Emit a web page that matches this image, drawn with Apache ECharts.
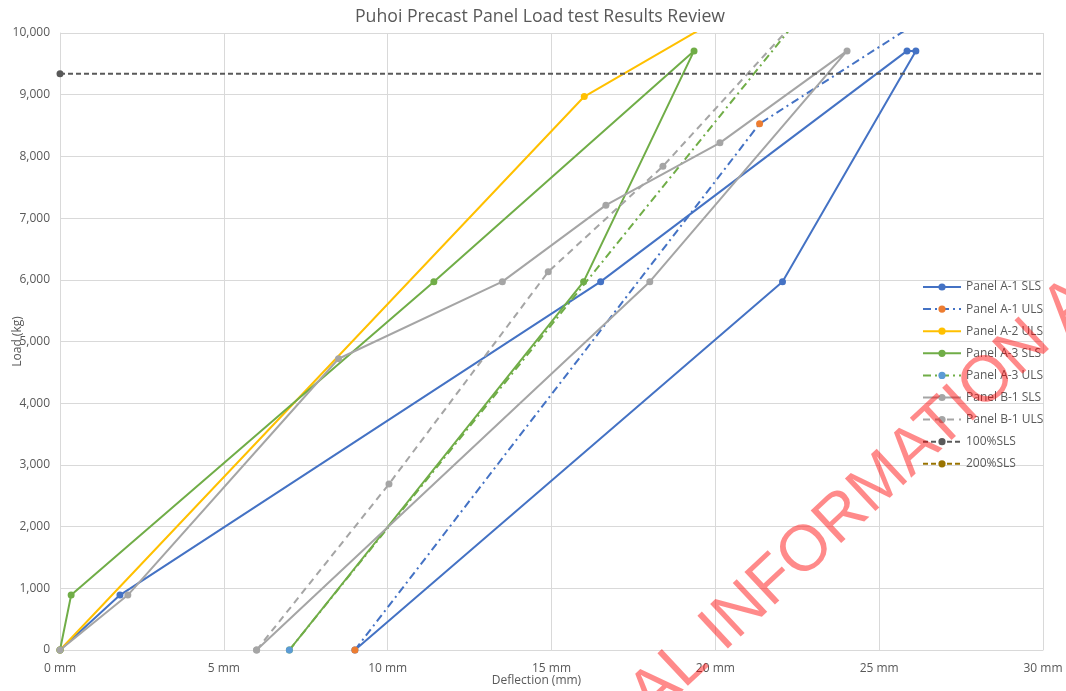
<!DOCTYPE html>
<html>
<head>
<meta charset="utf-8">
<title>Puhoi Precast Panel Load test Results Review</title>
<script src="https://cdn.jsdelivr.net/npm/echarts@6/dist/echarts.min.js"></script>
<style>
  html, body { margin: 0; padding: 0; background: #ffffff; }
  #chart { width: 1066px; height: 691px; }
</style>
</head>
<body>
<div id="chart"></div>
<script>
// Deflection (mm) and load (kg) readings for each panel test
const a1SlsX = [0, 1.83, 16.5, 25.85, 26.12, 22.05, 9.0];
const a1SlsY = [0, 890, 5970, 9710, 9710, 5970, 0];

const a1UlsX = [9.0, 21.35, 28.6];
const a1UlsY = [0, 8530, 11000];

const a2UlsX = [0, 16.0, 22.6];
const a2UlsY = [0, 8970, 11000];

const a3SlsX = [0, 0.34, 11.41, 19.35, 15.98, 7.0];
const a3SlsY = [0, 890, 5970, 9710, 5970, 0];

const a3UlsX = [7.0, 23.7];
const a3UlsY = [0, 11000];

const b1SlsX = [0, 2.07, 8.5, 13.5, 16.66, 20.14, 24.02, 18.0, 6.0];
const b1SlsY = [0, 890, 4720, 5970, 7210, 8220, 9710, 5970, 0];

const b1UlsX = [6.0, 10.04, 14.9, 18.4, 23.84];
const b1UlsY = [0, 2690, 6130, 7840, 11000];

// Reference load levels
const slsLevelX = [0, 32];
const sls100Y = [9340, 9340];
const sls200Y = [18680, 18680];

const xTicks = [0, 5, 10, 15, 20, 25, 30];

const FONT = '"Open Sans", "Noto Sans", sans-serif';
const TEXT = '#595959';

function pairs(xs, ys) {
  return xs.map((x, i) => [x, ys[i]]);
}

function lineSeries(name, xs, ys, lineColor, markerColor, dash) {
  return {
    name: name,
    type: 'line',
    data: pairs(xs, ys),
    symbol: 'circle',
    symbolSize: 7,
    showAllSymbol: true,
    clip: true,
    lineStyle: { color: lineColor, width: 2, type: dash || 'solid' },
    itemStyle: { color: markerColor, borderWidth: 0 },
    emphasis: { disabled: true },
    animation: false
  };
}

const dashDot = [8, 4, 2, 4];
const dashed = [7, 5];
const shortDash = [5, 3];

const series = [
  lineSeries('Panel A-1 SLS', a1SlsX, a1SlsY, '#4472C4', '#4472C4'),
  lineSeries('Panel A-1 ULS', a1UlsX, a1UlsY, '#4472C4', '#ED7D31', dashDot),
  lineSeries('Panel A-2 ULS', a2UlsX, a2UlsY, '#FFC000', '#FFC000'),
  lineSeries('Panel A-3 SLS', a3SlsX, a3SlsY, '#70AD47', '#70AD47'),
  lineSeries('Panel A-3 ULS', a3UlsX, a3UlsY, '#70AD47', '#5B9BD5', dashDot),
  lineSeries('Panel B-1 SLS', b1SlsX, b1SlsY, '#A5A5A5', '#A5A5A5'),
  lineSeries('Panel B-1 ULS', b1UlsX, b1UlsY, '#A5A5A5', '#A5A5A5', dashed),
  lineSeries('100%SLS', slsLevelX, sls100Y, '#595959', '#595959', shortDash),
  lineSeries('200%SLS', slsLevelX, sls200Y, '#997300', '#997300', shortDash)
];

const chart = echarts.init(document.getElementById('chart'), null, { renderer: 'canvas' });

chart.setOption({
  backgroundColor: '#ffffff',
  animation: false,
  textStyle: { fontFamily: FONT },
  title: {
    text: 'Puhoi Precast Panel Load test Results Review',
    left: 535,
    textAlign: 'center',
    top: 3,
    textStyle: { fontFamily: FONT, fontSize: 17.7, fontWeight: 'normal', color: TEXT }
  },
  grid: { left: 60, right: 23, top: 33, bottom: 41, containLabel: false, outerBoundsMode: 'none' },
  legend: {
    orient: 'vertical',
    left: 917,
    top: 276,
    itemWidth: 38,
    itemHeight: 9,
    itemGap: 10.1,
    textStyle: { fontFamily: FONT, fontSize: 12, color: TEXT, lineHeight: 12 },
    selectedMode: false,
    data: series.map(s => s.name)
  },
  xAxis: {
    type: 'value',
    min: xTicks[0],
    max: xTicks[xTicks.length - 1],
    interval: 5,
    name: 'Deflection (mm)',
    nameLocation: 'middle',
    nameGap: 25,
    nameMoveOverlap: false,
    nameTextStyle: { fontFamily: FONT, fontSize: 12, color: TEXT, padding: [0, 30, 0, 0] },
    axisLine: { show: true, lineStyle: { color: '#d9d9d9', width: 1 } },
    axisTick: { show: false },
    axisLabel: { formatter: '{value} mm', fontFamily: FONT, fontSize: 12, color: TEXT, margin: 13 },
    splitLine: { show: true, lineStyle: { color: '#d9d9d9', width: 1 } }
  },
  yAxis: {
    type: 'value',
    min: 0,
    max: 10000,
    interval: 1000,
    name: 'Load (kg)',
    nameLocation: 'middle',
    nameGap: 36,
    nameMoveOverlap: false,
    nameTextStyle: { fontFamily: FONT, fontSize: 12, color: TEXT },
    axisLine: { show: true, lineStyle: { color: '#d9d9d9', width: 1 } },
    axisTick: { show: false },
    axisLabel: {
      formatter: v => v.toLocaleString('en-US'),
      fontFamily: FONT, fontSize: 12, color: TEXT, margin: 10
    },
    splitLine: { show: true, lineStyle: { color: '#d9d9d9', width: 1 } }
  },
  series: series,
  graphic: [
    {
      type: 'text',
      x: 640,
      y: 706,
      rotation: 43 * Math.PI / 180,
      silent: true,
      z: 100,
      style: {
        text: 'AL INFORMATION A',
        font: '65px "Liberation Sans", Arial, sans-serif',
        fill: 'rgba(255, 0, 0, 0.46)',
        textAlign: 'left',
        textVerticalAlign: 'middle'
      }
    }
  ]
});
</script>
</body>
</html>
